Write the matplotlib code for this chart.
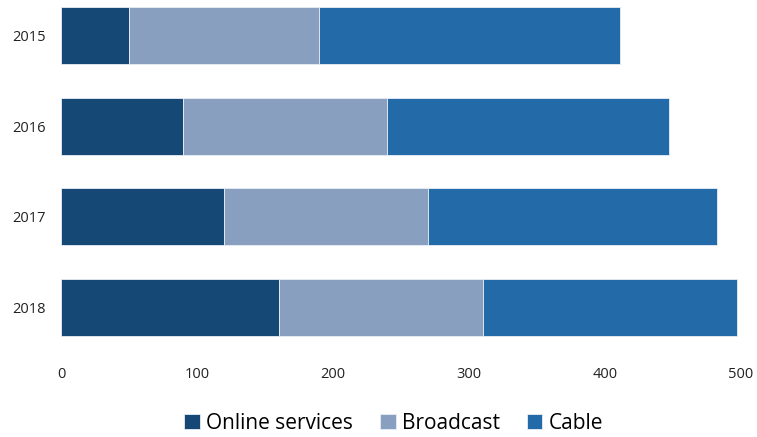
import matplotlib.pyplot as plt
import numpy as np

# === Datos ===
years = ['2015', '2016', '2017', '2018']
online = [50, 90, 120, 160]
broadcast = [140, 150, 150, 150]
cable = [221, 207, 212, 187]

series = [('Online services', online, '#154874'),
          ('Broadcast', broadcast, '#889fc0'),
          ('Cable', cable, '#236aa8')]

plt.rcParams['font.family'] = ['Open Sans', 'DejaVu Sans']

fig = plt.figure(figsize=(7.57, 4.37), dpi=100)
ax = fig.add_axes([61 / 757, 1 - 350 / 437, 680 / 757, 350 / 437])

y = np.arange(len(years))
left = np.zeros(len(years))
for name, vals, color in series:
    ax.barh(y, vals, left=left, height=0.63, color=color, label=name,
            edgecolor='#e8eef5', linewidth=0.6)
    left += np.array(vals)

ax.set_xlim(0, 500)
ax.set_ylim(3.469, -0.391)
ax.set_yticks(y, years)
ax.set_xticks([0, 100, 200, 300, 400, 500])
ax.tick_params(axis='both', length=0, labelsize=10.5, labelcolor='#222222')
ax.tick_params(axis='x', pad=12)
ax.tick_params(axis='y', pad=11)
for s in ax.spines.values():
    s.set_visible(False)

fig.legend(loc='lower center', bbox_to_anchor=(0.52, -0.035), ncol=3, frameon=False,
           fontsize=15, handlelength=0.75, handleheight=0.75, handletextpad=0.3,
           columnspacing=1.3)

fig.savefig('out.png', dpi=100)
